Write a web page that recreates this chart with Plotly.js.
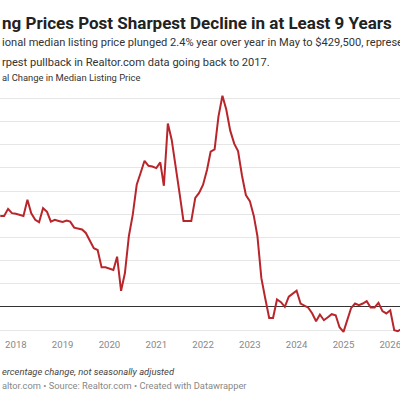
<!DOCTYPE html>
<html>
<head>
<meta charset="utf-8">
<script src="https://cdn.plot.ly/plotly-3.0.1.min.js"></script>
<style>
html,body{margin:0;padding:0;background:#fff;}
#chart{width:400px;height:400px;}
</style>
</head>
<body>
<div id="chart"></div>
<script>
// Monthly dates (first of month) from Sep 2017
const startYear = 2017, startMonth = 8; // 0-based month index: Sep
const yoyChange = [
  7.85, 7.85, 8.46, 8.09,
  8.03, 7.94, 7.85, 9.24, 8.07, 7.51, 7.31, 8.52, 8.20, 7.36, 7.51, 7.42,
  7.33, 7.45, 7.36, 6.84, 6.79, 6.68, 6.38, 5.69, 5.06, 4.91, 3.41, 3.41,
  3.32, 3.18, 4.33, 1.39, 2.92, 6.12, 7.94, 10.54, 11.58, 12.61, 12.18, 12.12,
  11.98, 12.47, 10.45, 15.82, 14.43, 12.27, 9.84, 7.42, 7.42, 7.42, 9.41, 9.84,
  10.54, 11.84, 13.39, 13.59, 16.42, 18.22, 17.03, 15.21, 14.09, 13.45, 11.32, 9.65,
  9.13, 7.85, 6.12, 2.48, 0.75, -0.95, -0.95, 0.64, 0.41, 0.00, 0.88, 1.16,
  1.39, 0.29, 0.15, -0.07, -0.55, -1.24, -0.66, -1.15, -0.89, -0.63, -0.72, -1.76,
  -2.16, -1.15, -0.11, 0.29, 0.15, 0.29, 0.49, -0.05, -0.05, 0.35, -0.37, -0.57,
  -0.29, -2.02, -2.10, -1.90, -2.40
];
const dates = yoyChange.map((_, i) => {
  const t = startMonth + i;
  const y = startYear + Math.floor(t / 12);
  const m = (t % 12) + 1;
  return y + '-' + String(m).padStart(2, '0') + '-01';
});

const titleText = 'ng Prices Post Sharpest Decline in at Least 9 Years';
const subtitleLine1 = 'ional median listing price plunged 2.4% year over year in May to $429,500, represe';
const subtitleLine2 = 'rpest pullback in Realtor.com data going back to 2017.';
const axisLabel = 'al Change in Median Listing Price';
const noteText = 'ercentage change, not seasonally adjusted';
const sourceText = 'altor.com • Source: Realtor.com • Created with Datawrapper';

const fontFam = 'Roboto, "Noto Sans", sans-serif';

const trace = {
  x: dates, y: yoyChange, type: 'scatter', mode: 'lines',
  line: {color: '#b8262c', width: 2},
  hoverinfo: 'skip'
};

const ann = (text, y, size, color, extra) => Object.assign({
  text: text, xref: 'paper', yref: 'paper', x: 0, y: y,
  xanchor: 'left', yanchor: 'middle', showarrow: false,
  font: {family: fontFam, size: size, color: color}
}, extra || {});

const layout = {
  width: 400, height: 400,
  margin: {l: 0, r: 0, t: 93, b: 63},
  paper_bgcolor: '#ffffff', plot_bgcolor: '#ffffff',
  showlegend: false,
  xaxis: {
    type: 'date',
    range: ['2017-08-30', '2026-03-18'],
    tick0: '2018-01-01', dtick: 'M12', tickformat: '%Y',
    showgrid: false, zeroline: false, showline: false,
    ticks: '', ticklabeloverflow: 'allow',
    tickfont: {family: fontFam, size: 9.6, color: '#888'},
    fixedrange: true
  },
  yaxis: {
    range: [-2.6, 18.46],
    tick0: 0, dtick: 2,
    showticklabels: false,
    showgrid: true, gridcolor: '#e6e6e6', gridwidth: 1,
    zeroline: true, zerolinecolor: '#333333', zerolinewidth: 1,
    showline: false, ticks: '', fixedrange: true
  },
  annotations: [
    ann('<b>' + titleText + '</b>', 1.2869, 17, '#222'),
    ann(subtitleLine1, 1.2070, 11.1, '#333'),
    ann(subtitleLine2, 1.125, 11.1, '#333'),
    ann(axisLabel, 1.0615, 9.4, '#333'),
    ann('<i>' + noteText + '</i>', -0.1434, 9.4, '#444'),
    ann(sourceText, -0.2008, 9.3, '#888')
  ]
};

Plotly.newPlot('chart', [trace], layout, {staticPlot: true, displayModeBar: false});
</script>
</body>
</html>
